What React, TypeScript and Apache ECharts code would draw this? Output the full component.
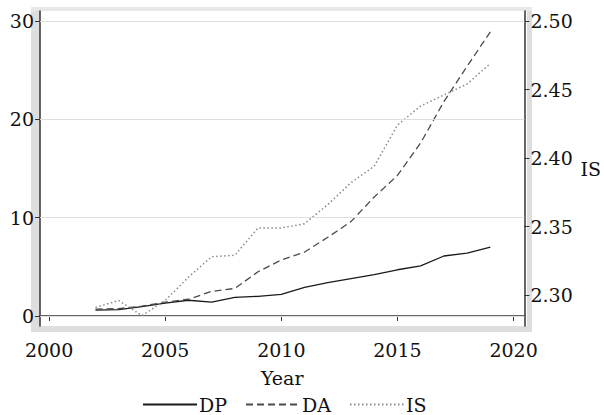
import React, { useEffect, useRef } from "react";
import * as echarts from "echarts";

const years = [2002, 2003, 2004, 2005, 2006, 2007, 2008, 2009, 2010, 2011, 2012, 2013, 2014, 2015, 2016, 2017, 2018, 2019];
const dpValues = [0.6, 0.65, 0.95, 1.3, 1.6, 1.4, 1.9, 2.0, 2.2, 2.9, 3.4, 3.8, 4.2, 4.7, 5.1, 6.1, 6.4, 7.0];
const daValues = [0.7, 0.75, 1.0, 1.4, 1.7, 2.5, 2.8, 4.5, 5.7, 6.5, 8.0, 9.6, 12.1, 14.3, 17.6, 21.8, 25.4, 28.9];
const isValues = [2.291, 2.296, 2.285, 2.296, 2.313, 2.328, 2.329, 2.349, 2.349, 2.352, 2.366, 2.382, 2.394, 2.424, 2.438, 2.446, 2.454, 2.469];
const xTicks = [2000, 2005, 2010, 2015, 2020];
const leftTicks = [0, 10, 20, 30];
const rightTicks = [2.3, 2.35, 2.4, 2.45, 2.5];

const FONT = "DejaVu Serif";
const FS = 19;

export default function App() {
  const ref = useRef<HTMLDivElement>(null);
  useEffect(() => {
    if (!ref.current) return;
    const chart = echarts.init(ref.current, undefined, { renderer: "svg" });
    const pair = (vals: number[]) => years.map((y, i) => [y, vals[i]]);
    const band = "#dedede";
    chart.setOption({
      animation: false,
      backgroundColor: "#fff",
      grid: { left: 40, right: 77, top: 11, bottom: 89 },
      graphic: [
        { type: "rect", shape: { x: 31, y: 7, width: 9, height: 325 }, style: { fill: band }, silent: true },
        { type: "rect", shape: { x: 527, y: 7, width: 5, height: 325 }, style: { fill: band }, silent: true },
        { type: "rect", shape: { x: 31, y: 7, width: 501, height: 4 }, style: { fill: "#e8e8e8" }, silent: true },
        { type: "rect", shape: { x: 31, y: 326, width: 501, height: 6 }, style: { fill: band }, silent: true },
      ],
      xAxis: {
        type: "value",
        min: 1999.61,
        max: 2020.47,
        name: "Year",
        nameLocation: "middle",
        nameGap: 42,
        nameTextStyle: { fontFamily: FONT, fontSize: FS, color: "#111" },
        axisLine: { show: true, lineStyle: { color: "#333", width: 1.5 } },
        axisTick: { show: true, customValues: xTicks, length: 5, lineStyle: { color: "#333" } },
        axisLabel: {
          customValues: xTicks,
          fontFamily: FONT,
          fontSize: FS,
          color: "#111",
          margin: 14,
          formatter: (v: number) => String(Math.round(v)),
        },
        splitLine: { show: false },
      },
      yAxis: [
        {
          type: "value",
          min: -1.02,
          max: 31.02,
          position: "left",
          axisLine: { show: true, lineStyle: { color: "#333", width: 1.5 } },
          axisTick: { show: true, customValues: leftTicks, length: 5, lineStyle: { color: "#333" } },
          axisLabel: { customValues: leftTicks, fontFamily: FONT, fontSize: FS, color: "#111", margin: 6 },
          splitLine: { show: false },
        },
        {
          type: "value",
          min: 2.2774,
          max: 2.5073,
          position: "right",
          name: "IS",
          nameLocation: "middle",
          nameRotate: 0,
          nameGap: 56,
          nameTextStyle: { fontFamily: FONT, fontSize: FS, color: "#111", align: "left" },
          axisLine: { show: true, lineStyle: { color: "#333", width: 1.5 } },
          axisTick: { show: true, customValues: rightTicks, length: 5, lineStyle: { color: "#333" } },
          axisLabel: {
            customValues: rightTicks,
            fontFamily: FONT,
            fontSize: FS,
            color: "#111",
            margin: 6,
            formatter: (v: number) => v.toFixed(2),
          },
          splitLine: { show: false },
        },
      ],
      legend: {
        left: 137,
        top: 390,
        itemWidth: 54,
        itemHeight: 14,
        itemGap: 18,
        itemStyle: { opacity: 0 },
        textStyle: { fontFamily: FONT, fontSize: FS, color: "#111", padding: [0, 0, 0, -3] },
        data: ["DP", "DA", "IS"],
      },
      series: [
        {
          name: "grid",
          type: "line",
          data: [],
          silent: true,
          markLine: {
            silent: true,
            symbol: "none",
            label: { show: false },
            lineStyle: { color: "#dedede", width: 1.2, type: "solid" },
            data: leftTicks.map((v) => ({ yAxis: v })),
          },
        },
        {
          name: "DP",
          type: "line",
          data: pair(dpValues),
          symbol: "none",
          showSymbol: false,
          lineStyle: { color: "#1a1a1a", width: 1.3, type: "solid" },
          itemStyle: { color: "#1a1a1a" },
        },
        {
          name: "DA",
          type: "line",
          data: pair(daValues),
          symbol: "none",
          showSymbol: false,
          lineStyle: { color: "#4a4a4a", width: 1.3, type: [7, 4] },
          itemStyle: { color: "#4a4a4a" },
        },
        {
          name: "IS",
          type: "line",
          yAxisIndex: 1,
          data: pair(isValues),
          symbol: "none",
          showSymbol: false,
          lineStyle: { color: "#8a8a8a", width: 1.5, type: [1.5, 2.5] },
          itemStyle: { color: "#8a8a8a" },
        },
      ],
    });
    return () => chart.dispose();
  }, []);
  return <div ref={ref} style={{ width: 604, height: 415, position: "absolute", left: 0, top: 0 }} />;
}
